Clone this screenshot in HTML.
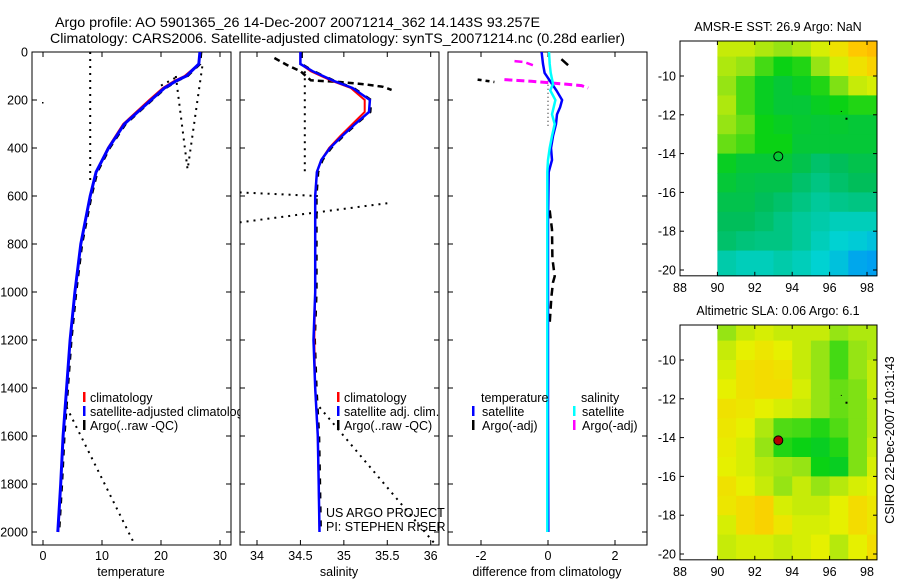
<!DOCTYPE html>
<html><head><meta charset="utf-8"><style>
html,body{margin:0;padding:0;background:#fff;}
svg{display:block;font-family:"Liberation Sans",sans-serif;}
</style></head><body>
<svg id="fig" width="900" height="580" viewBox="0 0 900 580" xmlns="http://www.w3.org/2000/svg">
<defs>
<clipPath id="c1"><rect x="32" y="52" width="199" height="493"/></clipPath>
<clipPath id="c2"><rect x="240" y="52" width="199" height="493"/></clipPath>
<clipPath id="c3"><rect x="448" y="52" width="199" height="493"/></clipPath>
<clipPath id="cl1"><rect x="80" y="380" width="160" height="60"/></clipPath>
</defs>
<text x="55" y="27" font-size="14" textLength="485" lengthAdjust="spacingAndGlyphs">Argo profile: AO 5901365_26 14-Dec-2007 20071214_362 14.143S 93.257E</text>
<text x="50" y="43" font-size="14" textLength="575" lengthAdjust="spacingAndGlyphs">Climatology: CARS2006. Satellite-adjusted climatology: synTS_20071214.nc (0.28d earlier)</text>
<g id="g"></g>
<text transform="translate(894,440) rotate(-90)" text-anchor="middle" font-size="12.5">CSIRO 22-Dec-2007 10:31:43</text>
</svg>
<script>
// ---- profile data ----
const depthClim = [0,50,100,120,150,200,300,400,500,600,800,1000,1200,1400,1600,1800,2000];
const tempClim  = [26.6,26.4,24.0,22.3,20.3,18.0,13.6,11.0,9.0,8.0,6.4,5.4,4.6,4.0,3.4,3.0,2.6];
const tempSat   = [26.6,26.4,24.3,22.6,20.6,18.3,13.8,11.1,9.0,8.0,6.4,5.4,4.6,4.0,3.4,3.0,2.5];
const salDepth  = [0,50,80,120,150,200,250,300,350,400,450,500,600,1000,1200,1400,1600,1800,2000];
const salClim   = [34.5,34.5,34.62,34.86,35.08,35.24,35.24,35.1,34.96,34.83,34.74,34.69,34.67,34.67,34.66,34.67,34.7,34.71,34.72];
const salSat    = [34.5,34.5,34.64,34.88,35.1,35.3,35.29,35.13,34.98,34.84,34.74,34.69,34.67,34.67,34.65,34.67,34.7,34.71,34.72];
const argoSalDepth = [25,55,80,118,125,135,145,158];
const argoSal      = [34.2,34.35,34.5,34.62,34.95,35.25,35.45,35.55];
// dotted artefact lines [x1,d1,x2,d2]
const tempDots = [[8,0,8,550],[27,60,24.5,490],[22.5,100,24.5,490],[20,140,23,100],[4,1480,15.5,2050]];
const salDots  = [[34.55,80,34.55,500],[33.8,585,34.7,600],[33.8,710,35.5,630],[34.72,1480,36.05,2050]];
// difference panel
const diffDepth = [0,50,87,133,160,200,230,260,300,350,400,450,500,700,1000,1500,2000];
const diffTempSat = [-0.19,-0.15,-0.1,0.12,0.25,0.42,0.36,0.27,0.24,0.15,0.09,0.12,0.02,0.0,0.0,0.0,0.01];
const diffSalSat  = [0.03,0.05,0.08,0.15,0.07,0.22,0.17,0.12,0.2,0.12,0.05,0.0,-0.02,-0.02,-0.02,-0.02,-0.02];
const argoTDiffDepth = [660,740,860,935,960,1020,1130];
const argoTDiff      = [0.05,0.12,0.13,0.2,0.15,0.1,0.05];
const argoTTopDepth = [30,55]; const argoTTop=[0.4,0.6];
const argoTShallowDepth=[115,125]; const argoTShallow=[-2.1,-1.6];
const argoSTopDepth=[38,42,55]; const argoSTop=[-1,-0.7,-0.45];
const argoSMidDepth=[115,122,130,140,150]; const argoSMid=[-1.3,-0.5,0.2,1.0,1.2];
// ---- map data (1-degree cells, lon 90..98.5, lat -8.2..-20.3) ----
const mapLon = [90,91,92,93,94,95,96,97,98,98.5];
const mapLat = [-8.2,-9,-10,-11,-12,-13,-14,-15,-16,-17,-18,-19,-20.3];
const sst = [
[0.78,0.78,0.75,0.72,0.75,0.8,0.85,0.9,0.92],
[0.75,0.72,0.65,0.6,0.62,0.72,0.8,0.85,0.88],
[0.72,0.65,0.58,0.55,0.58,0.62,0.7,0.78,0.8],
[0.75,0.65,0.58,0.55,0.55,0.58,0.6,0.62,0.62],
[0.72,0.68,0.6,0.58,0.56,0.55,0.56,0.55,0.55],
[0.68,0.65,0.6,0.6,0.55,0.55,0.55,0.55,0.55],
[0.58,0.55,0.55,0.55,0.52,0.48,0.5,0.52,0.52],
[0.55,0.53,0.52,0.52,0.48,0.45,0.48,0.5,0.5],
[0.52,0.52,0.5,0.48,0.45,0.42,0.44,0.45,0.45],
[0.5,0.5,0.48,0.45,0.42,0.4,0.38,0.38,0.38],
[0.48,0.46,0.45,0.45,0.42,0.38,0.35,0.33,0.3],
[0.4,0.38,0.38,0.4,0.38,0.35,0.3,0.22,0.2]];
const sla = [
[0.72,0.78,0.8,0.78,0.78,0.78,0.72,0.75,0.75],
[0.78,0.82,0.84,0.82,0.78,0.72,0.65,0.72,0.75],
[0.8,0.85,0.86,0.85,0.78,0.72,0.65,0.72,0.78],
[0.82,0.85,0.86,0.86,0.8,0.72,0.68,0.7,0.78],
[0.85,0.84,0.82,0.8,0.78,0.72,0.68,0.7,0.76],
[0.84,0.82,0.75,0.66,0.65,0.62,0.66,0.7,0.76],
[0.83,0.8,0.72,0.62,0.6,0.58,0.62,0.7,0.78],
[0.82,0.8,0.76,0.74,0.72,0.6,0.58,0.7,0.8],
[0.85,0.82,0.78,0.72,0.78,0.72,0.76,0.8,0.82],
[0.84,0.86,0.88,0.8,0.78,0.78,0.82,0.86,0.84],
[0.8,0.86,0.88,0.84,0.8,0.8,0.82,0.86,0.84],
[0.78,0.8,0.8,0.78,0.8,0.82,0.76,0.82,0.86]];
const argoLon = 93.257, argoLat = -14.143;
const depthTicks=[0,200,400,600,800,1000,1200,1400,1600,1800,2000];
const tempTicks=[0,10,20,30];
const salTicks=[34,34.5,35,35.5,36];
const diffTicks=[-2,0,2];
const lonTicks=[88,90,92,94,96,98];
const latTicks=[-10,-12,-14,-16,-18,-20];

const NS="http://www.w3.org/2000/svg";
const G=document.getElementById('g');
function mk(tag,attrs,parent){const e=document.createElementNS(NS,tag);for(const k in attrs)e.setAttribute(k,attrs[k]);(parent||G).appendChild(e);return e;}
function lin(d0,d1,r0,r1){return v=>r0+(v-d0)/(d1-d0)*(r1-r0);}
const yD=lin(0,2000,52,532);
const xT=lin(0,30,43,220);
const xS=lin(34,36,257,430.7);
const xF=lin(0,2,548,615);

function line(xs,ys,fx,fy,col,w,dash,clip,name){
  const pts=xs.map((v,i)=>fx(v).toFixed(1)+','+fy(ys[i]).toFixed(1)).join(' ');
  const p=mk('polyline',{points:pts,fill:'none',stroke:col,'stroke-width':w,'clip-path':'url(#'+clip+')'});
  if(dash)p.setAttribute('stroke-dasharray',dash);
  
  
  return p;
}
function txt(x,y,s,size,anchor,name){const t=mk('text',{x:x,y:y,'font-size':size,'text-anchor':anchor||'start'});t.textContent=s;
  
  return t;}

function profileFrame(x0,fx,ticks,label,name,showDepth){
  const r=mk('rect',{x:x0,y:52,width:199,height:493,fill:'none',stroke:'#000','stroke-width':1});
  
  
  depthTicks.forEach(d=>{const y=yD(d);
    mk('line',{x1:x0,y1:y,x2:x0+5,y2:y,stroke:'#000'});
    mk('line',{x1:x0+199,y1:y,x2:x0+194,y2:y,stroke:'#000'});
    if(showDepth) txt(x0-4,y+4.5,String(d),12.5,'end','depth-tick-label');
  });
  ticks.forEach(v=>{const x=fx(v);
    mk('line',{x1:x,y1:545,x2:x,y2:540,stroke:'#000'});
    mk('line',{x1:x,y1:52,x2:x,y2:57,stroke:'#000'});
    txt(x,560,String(v),12.5,'middle','x-tick-label');
  });
  txt(x0+99,576,label,12.5,'middle',name+'-x-axis-title');
}
// Panel 1 temperature
profileFrame(32,xT,tempTicks,'temperature','temperature-panel',true);
tempDots.forEach(s=>line([s[0],s[2]],[s[1],s[3]],xT,yD,'#000',2,'2 5','c1','argo-temp-dotted'));
mk('rect',{x:42,y:102,width:1.5,height:1.5,fill:'#000'});
line(tempSat,depthClim,v=>xT(v)+1.5,yD,'#000',2,'6 6','c1','argo-temperature');
line(tempClim,depthClim,xT,yD,'#ff0000',2,null,'c1','climatology-temperature');
line(tempSat,depthClim,xT,yD,'#0000ff',3,null,'c1','satellite-temperature');
// Panel 2 salinity
profileFrame(240,xS,salTicks,'salinity','salinity-panel',false);
salDots.forEach(s=>line([s[0],s[2]],[s[1],s[3]],xS,yD,'#000',2,'2 5','c2','argo-sal-dotted'));
line(argoSal,argoSalDepth,xS,yD,'#000',2.5,'6 4','c2','argo-salinity-shallow');
line(salSat,salDepth,v=>xS(v)+1.5,yD,'#000',2,'6 8','c2','argo-salinity');
line(salClim,salDepth,xS,yD,'#ff0000',2,null,'c2','climatology-salinity');
line(salSat,salDepth,xS,yD,'#0000ff',2.5,null,'c2','satellite-salinity');
// Panel 3 difference
profileFrame(448,xF,diffTicks,'difference from climatology','difference-panel',false);
line([0,0],[120,320],xF,yD,'#000',1,'1 3','c3','zero-dotted');
line(argoTDiff,argoTDiffDepth,xF,yD,'#000',2.5,'8 5','c3','argo-temp-diff-deep');
line(argoTTop,argoTTopDepth,xF,yD,'#000',2.5,null,'c3','argo-temp-diff-top');
line(argoTShallow,argoTShallowDepth,xF,yD,'#000',2.5,'4 4','c3','argo-temp-diff-shallow');
line(argoSTop,argoSTopDepth,xF,yD,'#ff00ff',2.5,'8 4','c3','argo-sal-diff-top');
line(argoSMid,argoSMidDepth,xF,yD,'#ff00ff',3,'8 4','c3','argo-sal-diff-mid');
line(diffTempSat,diffDepth,xF,yD,'#0000ff',2.5,null,'c3','satellite-temp-diff');
line(diffSalSat,diffDepth,xF,yD,'#00ffff',2.5,null,'c3','satellite-sal-diff');

// legends
function legItem(bx,by,col,label,tx,name){
  mk('rect',{x:bx,y:by,width:2.5,height:10,fill:col});
  txt(tx,by+10,label,12.5,'start',name);
}
const lg1=mk('g',{'clip-path':'url(#cl1)'});


[['#ff0000','climatology',392],['#0000ff','satellite-adjusted climatology',406],['#000','Argo(..raw -QC)',420]].forEach(a=>{
  mk('rect',{x:83,y:a[2],width:2.5,height:10,fill:a[0]},lg1);
  const t=mk('text',{x:90,y:a[2]+10,'font-size':12.5},lg1);t.textContent=a[1];
  
  
});
legItem(337,392,'#ff0000','climatology',344,'legend-entry');
legItem(337,406,'#0000ff','satellite adj. clim.',344,'legend-entry');
legItem(337,420,'#000','Argo(..raw -QC)',344,'legend-entry');
txt(326,517,'US ARGO PROJECT',12.5,'start','project-label');
txt(326,531,'PI: STEPHEN RISER',12.5,'start','pi-label');
txt(481,402,'temperature',12.5,'start','legend-heading');
legItem(472,406,'#0000ff','satellite',482,'legend-entry');
legItem(472,420,'#000','Argo(-adj)',482,'legend-entry');
txt(581,402,'salinity',12.5,'start','legend-heading');
legItem(573,406,'#00ffff','satellite',582,'legend-entry');
legItem(573,420,'#ff00ff','Argo(-adj)',582,'legend-entry');

// colormap
const cStops=[[0,[0,90,230]],[0.2,[0,160,240]],[0.35,[0,210,210]],[0.5,[0,190,90]],[0.6,[10,210,20]],[0.72,[150,228,20]],[0.82,[230,240,0]],[0.9,[255,200,0]],[1,[255,145,0]]];
function cmap(v){for(let i=1;i<cStops.length;i++){if(v<=cStops[i][0]){const a=cStops[i-1],b=cStops[i],t=(v-a[0])/(b[0]-a[0]);
  return 'rgb('+a[1].map((c,k)=>Math.round(c+(b[1][k]-c)*t)).join(',')+')';}}return 'rgb(255,145,0)';}

function drawMap(top,bottom,vals,title,name,argoFill){
  const fx=lin(88,98,680,867);
  const yy=lin(-10,-20, top+35, top+229);
  const g=mk('g',{});
  
  
  for(let r=0;r<vals.length;r++)for(let c=0;c<vals[r].length;c++){
    const x1=fx(mapLon[c]),x2=fx(mapLon[c+1]),y1=yy(mapLat[r]),y2=yy(mapLat[r+1]);
    const cell=mk('rect',{x:x1.toFixed(1),y:y1.toFixed(1),width:(x2-x1+0.6).toFixed(1),height:(y2-y1+0.6).toFixed(1),fill:cmap(vals[r][c])},g);
    
    
  }
  const fr=mk('rect',{x:680,y:top,width:197,height:yy(-20.3)-top,fill:'none',stroke:'#000'});
  
  
  const yb=yy(-20.3);
  lonTicks.forEach(v=>{const x=fx(v);mk('line',{x1:x,y1:yb,x2:x,y2:yb-4,stroke:'#000'});mk('line',{x1:x,y1:top,x2:x,y2:top+4,stroke:'#000'});
    txt(x,yb+16,String(v),12.5,'middle','lon-tick-label');});
  latTicks.forEach(v=>{const y=yy(v);mk('line',{x1:680,y1:y,x2:684,y2:y,stroke:'#000'});mk('line',{x1:877,y1:y,x2:873,y2:y,stroke:'#000'});
    txt(676,y+4.5,String(v),12.5,'end','lat-tick-label');});
  const ax=fx(argoLon), ay=yy(argoLat);
  const m=mk('circle',{cx:ax,cy:ay,r:4.5,fill:argoFill,stroke:'#000','stroke-width':1});
  
  
  mk('rect',{x:fx(96.85),y:yy(-12.15),width:2,height:2,fill:'#000'});
  mk('rect',{x:fx(96.6),y:yy(-11.8),width:1,height:1,fill:'#000'});
  txt(778,top-10,title,12.5,'middle',name+'-title');
}
drawMap(41,270,sst,'AMSR-E SST: 26.9 Argo: NaN','sst-map','none');
drawMap(325,557,sla,'Altimetric SLA: 0.06 Argo: 6.1','sla-map','#b00000');
</script>
</body></html>
